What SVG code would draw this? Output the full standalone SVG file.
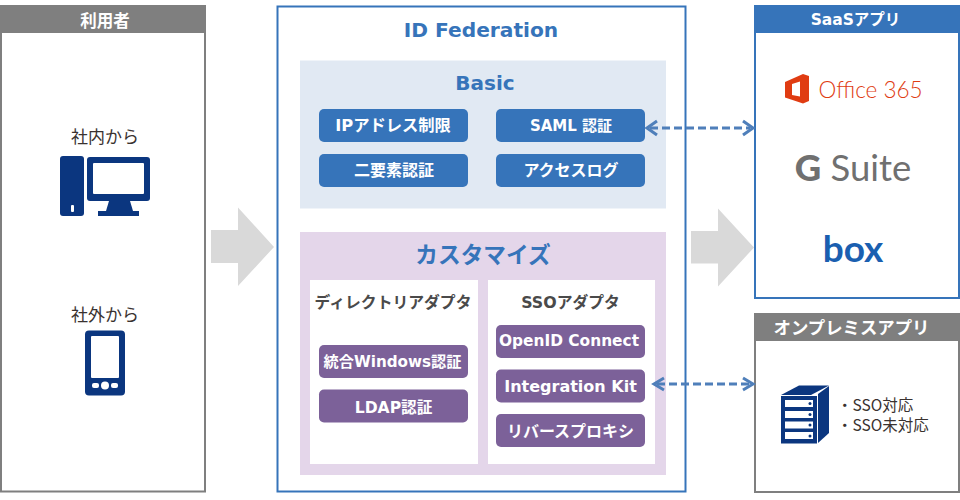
<svg xmlns="http://www.w3.org/2000/svg" width="960" height="500" viewBox="0 0 960 500">
<style>
text{font-family:"DejaVu Sans","Noto Sans CJK JP",sans-serif;text-anchor:middle}
.j{font-family:"Noto Sans CJK JP",sans-serif}
.hd{font-size:16.500px;font-weight:700;fill:#fff}
.btn{font-size:16px;font-weight:700;fill:#fff}
.lbl{font-size:17px;fill:#3a3230}
.sub{font-size:15.800px;font-weight:700;fill:#4a4a4a}
.ttl{font-weight:700;fill:#3674ba}
.blue{fill:#3674ba}
.pur{fill:#7c6199}
.navy{fill:#0b367f}
.ga{fill:#d9d9d9}
.bi{fill:none;stroke:#4f7fba;stroke-width:3;stroke-dasharray:8 4}
.hh{fill:none;stroke:#4f7fba;stroke-width:3}
</style>
<rect width="960" height="500" fill="#fff"/>

<g id="users">
<rect x="1" y="6" width="204" height="485.500" fill="#fff" stroke="#7f7f7f" stroke-width="2"/>
<rect x="0" y="5" width="206" height="28" fill="#7f7f7f"/>
<text class="hd j" x="105" y="26.500">利用者</text>
<text class="lbl j" x="105" y="142.500">社内から</text>
<text class="lbl j" x="105" y="320.500">社外から</text>
<rect class="navy" x="60" y="156" width="24" height="60" rx="3"/>
<rect x="71" y="205" width="3" height="7" rx="1" fill="#fff"/>
<rect class="navy" x="87" y="157" width="63" height="44" rx="3"/>
<rect x="93" y="163" width="51" height="31" rx="1" fill="#fff"/>
<path class="navy" d="M109 201h21l3 10h-27z"/>
<rect class="navy" x="98" y="211" width="41" height="5"/>
<rect class="navy" x="85" y="330.500" width="40" height="65" rx="4"/>
<rect x="91" y="336" width="28" height="42" rx="1" fill="#fff"/>
<circle cx="105" cy="385.500" r="4" fill="#fff"/>
<rect x="92" y="383" width="7" height="5" rx="2" fill="#fff"/>
<rect x="111" y="383" width="7" height="5" rx="2" fill="#fff"/>
</g>

<g id="federation">
<rect x="277.500" y="6.500" width="408" height="485" fill="#fff" stroke="#3674ba" stroke-width="2"/>
<text class="ttl" x="481" y="37" font-size="20.200">ID Federation</text>
</g>

<g id="basic">
<rect x="300" y="60.500" width="366" height="148" fill="#e1e9f3"/>
<text class="ttl" x="485" y="90" font-size="20">Basic</text>
</g>
<g id="ip"><rect class="blue" x="319" y="109" width="149" height="33" rx="5"/><text class="btn" x="393" y="131" style="font-size:16.300px">IPアドレス制限</text></g>
<g id="saml"><rect class="blue" x="496" y="109" width="149" height="33" rx="5"/><text class="btn" x="571" y="131" style="font-size:15px">SAML 認証</text></g>
<g id="mfa"><rect class="blue" x="319" y="154" width="149" height="33" rx="5"/><text class="btn" x="394" y="176">二要素認証</text></g>
<g id="log"><rect class="blue" x="496" y="154" width="149" height="33" rx="5"/><text class="btn" x="571" y="176">アクセスログ</text></g>

<g id="custom">
<rect x="300" y="232" width="366" height="243" fill="#e4d6ea"/>
<text class="ttl j" x="483" y="263" font-size="22.700">カスタマイズ</text>
</g>
<g id="dir">
<rect x="310" y="280" width="168" height="184" fill="#fff"/>
<text class="sub" x="393" y="308">ディレクトリアダプタ</text>
</g>
<g id="sso">
<rect x="488" y="280" width="167" height="184" fill="#fff"/>
<text class="sub" x="570.500" y="308">SSOアダプタ</text>
</g>
<g id="win"><rect class="pur" x="319" y="345" width="149" height="33" rx="5"/><text class="btn" x="392.500" y="367" style="font-size:15.200px">統合Windows認証</text></g>
<g id="ldap"><rect class="pur" x="319" y="389.500" width="149" height="33" rx="5"/><text class="btn" x="393.500" y="413" style="font-size:15.600px">LDAP認証</text></g>
<g id="oidc"><rect class="pur" x="496" y="325" width="149" height="33" rx="5"/><text class="btn" x="569" y="346" style="font-size:15.400px">OpenID Connect</text></g>
<g id="kit"><rect class="pur" x="496" y="369.500" width="149" height="33" rx="5"/><text class="btn" x="570.500" y="392">Integration Kit</text></g>
<g id="proxy"><rect class="pur" x="496" y="414" width="149" height="33" rx="5"/><text class="btn" x="570.500" y="437">リバースプロキシ</text></g>

<g id="saas">
<rect x="755" y="6" width="204" height="292" fill="#fff" stroke="#3674ba" stroke-width="2"/>
<rect x="754" y="5" width="206" height="28" class="blue"/>
<text class="hd" x="855.500" y="25" style="font-size:15.500px">SaaSアプリ</text>
<path fill="#e03c12" fill-rule="evenodd" d="M785 82l18-8 6 2v25l-6 2.500-18-6zM792 84v11l8 1.500v-15z"/>
<text x="870.500" y="98" font-size="22.500" fill="#e03c12" style="font-family:Lato,sans-serif;font-weight:300">Office 365</text>
<text x="853" y="181" font-size="36.500" fill="#707070" style="font-family:Lato,sans-serif;font-weight:400"><tspan font-weight="900">G</tspan> Suite</text>
<text x="853" y="262" font-size="37" font-weight="700" fill="#1a5fb0" style="font-family:Lato,sans-serif">box</text>
</g>

<g id="onprem">
<rect x="755" y="314" width="204" height="178" fill="#fff" stroke="#7f7f7f" stroke-width="2"/>
<rect x="754" y="313" width="206" height="28" fill="#7f7f7f"/>
<text class="hd j" x="851.500" y="333.500" style="font-size:17.400px">オンプレミスアプリ</text>
<path class="navy" d="M781 395l18-9.500h30l-18 9.500z"/>
<path class="navy" d="M818 394l11-8v47l-11 10z"/>
<rect class="navy" x="781" y="396" width="36" height="47.500"/>
<g fill="#fff"><rect x="785" y="400" width="28" height="7"/><rect x="785" y="411" width="28" height="7"/><rect x="785" y="421.500" width="28" height="7"/><rect x="785" y="432" width="28" height="7"/></g>
<g class="navy"><circle cx="810" cy="403.500" r="1.500"/><circle cx="810" cy="414.500" r="1.500"/><circle cx="810" cy="425" r="1.500"/><circle cx="810" cy="436" r="1.500"/></g>
<text class="j" x="837" y="410.500" font-size="15.500" fill="#3a3230" style="text-anchor:start">・SSO対応</text>
<text class="j" x="837" y="431" font-size="15.500" fill="#3a3230" style="text-anchor:start">・SSO未対応</text>
</g>

<g id="connectors">
<path class="ga" d="M211 230h27v-22.500l36 39.500-36 39v-23h-27z"/>
<path class="ga" d="M691 231h27v-22.500l36 39-36 39v-23h-27z"/>
<path class="bi" d="M650 128h100"/>
<path class="hh" d="M657 121l-10 7 10 7M743 121l10 7-10 7"/>
<path class="bi" d="M657 384h93"/>
<path class="hh" d="M664 378l-10 6 10 6M743 378l10 6-10 6"/>
</g>
</svg>
